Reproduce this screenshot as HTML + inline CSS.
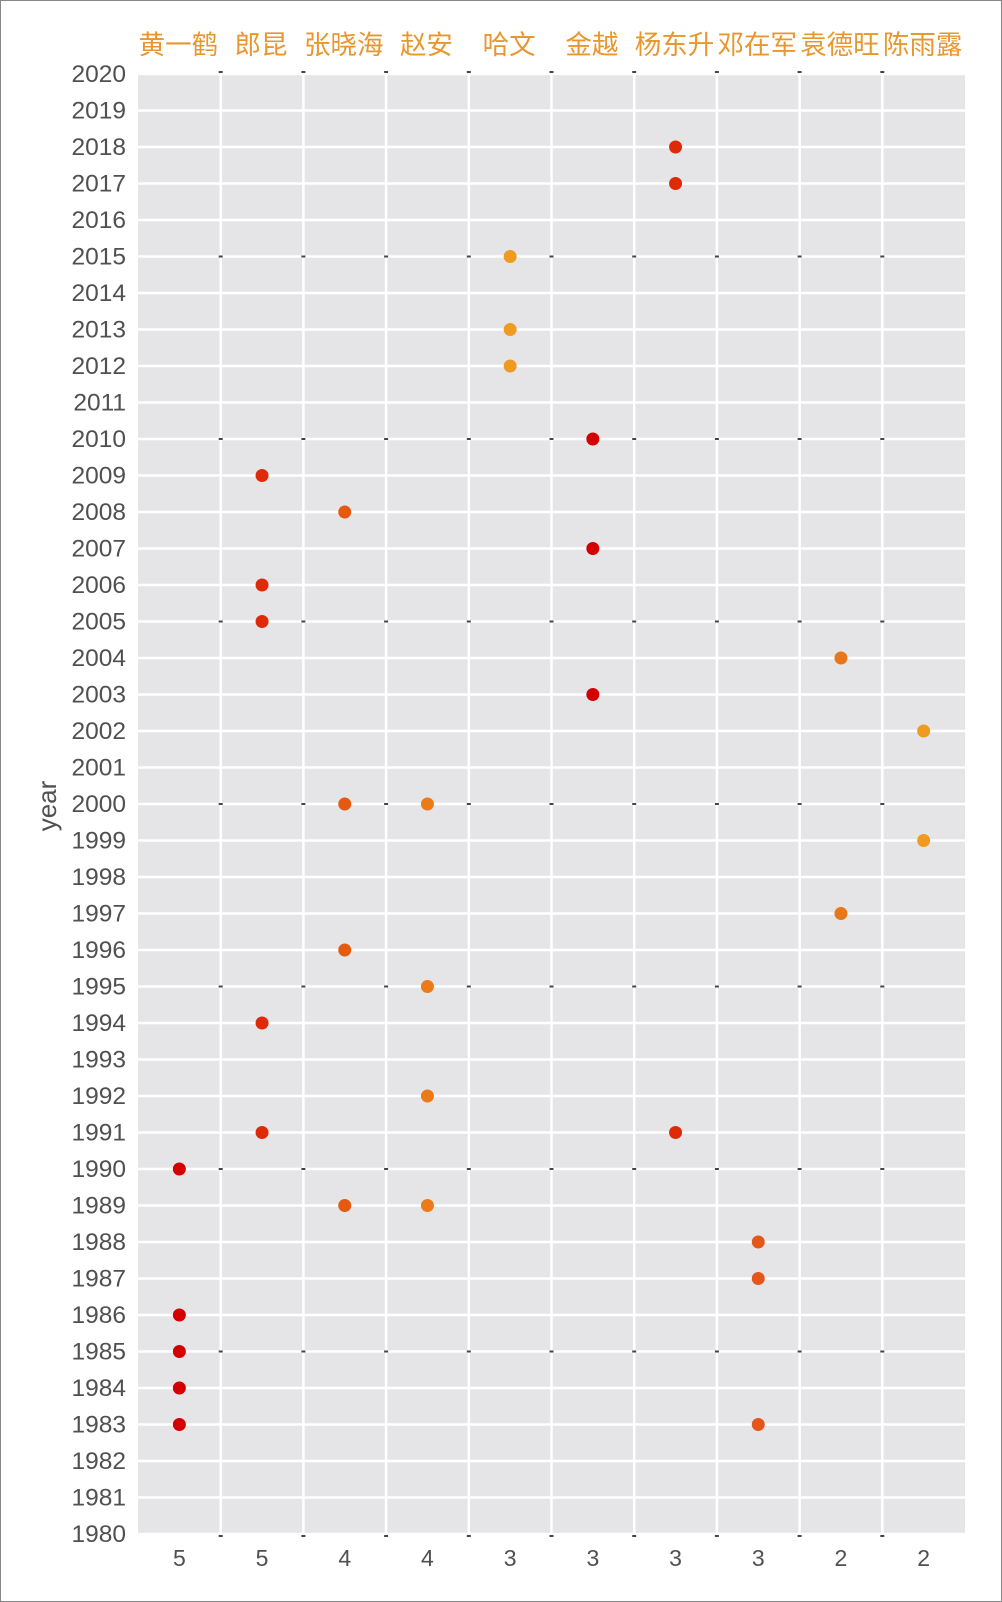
<!DOCTYPE html>
<html><head><meta charset="utf-8"><style>
html,body{margin:0;padding:0;background:#fff}
svg{display:block}
</style></head><body>
<svg id="chart" width="1002" height="1602" xmlns="http://www.w3.org/2000/svg">
<rect x="0.5" y="0.5" width="1001" height="1601" fill="#fff" stroke="#888"/>
<g id="g"></g>
</svg>
<script>
const categories = ["黄一鹤","郎昆","张晓海","赵安","哈文","金越","杨东升","邓在军","袁德旺","陈雨露"];
const counts = [5,5,4,4,3,3,3,3,2,2];
const years = [
 [1990,1986,1985,1984,1983],
 [2009,2006,2005,1994,1991],
 [2008,2000,1996,1989],
 [2000,1995,1992,1989],
 [2015,2013,2012],
 [2010,2007,2003],
 [2018,2017,1991],
 [1988,1987,1983],
 [2004,1997],
 [2002,1999]
];
const colors = ["#d40000","#df2a08","#e65a10","#ec7a18","#ef9a20","#d40000","#df2a08","#e5561a","#e8761a","#ef9a20"];
const yMin = 1980, yMax = 2020;

const NS="http://www.w3.org/2000/svg";
const g=document.getElementById('g');
const L=138,R=965,T=74,B=1534;
const colW=(R-L)/categories.length;
const x=i=>L+colW*(i+0.5);
const y=v=>B-(v-yMin)/(yMax-yMin)*(B-T);
function mk(tag,attrs,text){const e=document.createElementNS(NS,tag);for(const k in attrs)e.setAttribute(k,attrs[k]);if(text!==undefined)e.textContent=text;g.appendChild(e);return e;}
const FONT='"Liberation Sans","Noto Sans CJK SC",sans-serif';

let p=mk('rect',{x:L,y:T,width:R-L,height:B-T,fill:'#e5e5e8'});



for(let yr=yMin;yr<=yMax;yr++){
  const gl=mk('line',{x1:L,x2:R,y1:y(yr),y2:y(yr),stroke:'#fff','stroke-width':2.5});
  
  
  const t=mk('text',{x:126,y:y(yr)+8,'text-anchor':'end','font-size':24.5,fill:'#505050','font-family':FONT},String(yr));
  
  
}
for(let i=1;i<categories.length;i++){
  const xv=L+colW*i;
  const vl=mk('line',{x1:xv,x2:xv,y1:T,y2:B,stroke:'#fff','stroke-width':2.5});
  
  
  for(let yr=yMin;yr<=yMax;yr+=5){
    const off=yr===yMin?2:(yr===yMax?-2:0);
    const tk=mk('line',{x1:xv-2,x2:xv+2,y1:y(yr)+off,y2:y(yr)+off,stroke:'#444','stroke-width':2});
    
    
  }
}
categories.forEach((c,i)=>{
  const t=mk('text',{x:x(i)-1,y:54,'text-anchor':'middle','font-size':26.5,fill:'#e8962e','font-family':FONT},c);
  
  
  const b=mk('text',{x:x(i),y:1566,'text-anchor':'middle','font-size':23,fill:'#505050','font-family':FONT},String(counts[i]));
  
  
  years[i].forEach(yr=>{
    const d=mk('circle',{cx:x(i),cy:y(yr),r:6.5,fill:colors[i]});
    
    
  });
});
const yl=mk('text',{x:0,y:0,transform:'translate(56,806) rotate(-90)','text-anchor':'middle','font-size':26,fill:'#505050','font-family':FONT},'year');


</script>
</body></html>
